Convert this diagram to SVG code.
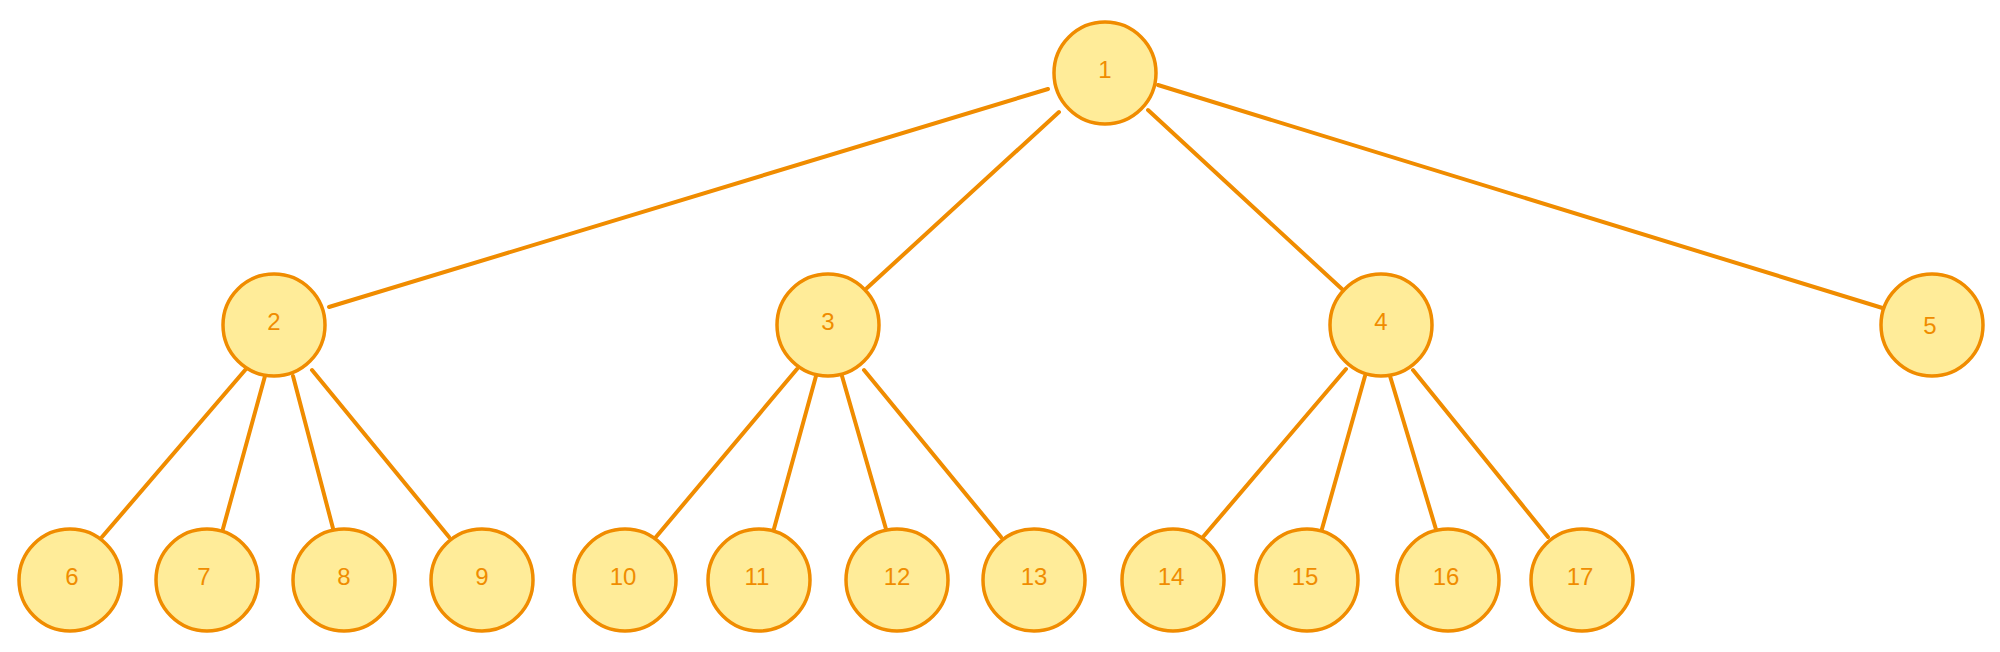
<svg xmlns="http://www.w3.org/2000/svg" width="2000" height="652" viewBox="0 0 2000 652">
<style>
.n circle{fill:#ffec99;stroke:#f08c00;stroke-width:3.5}
.n text{font-family:"Liberation Sans",sans-serif;font-size:24px;fill:#f08c00;text-anchor:middle;dominant-baseline:central}
#edges line{stroke:#f08c00;stroke-width:4;stroke-linecap:round}
</style>
<rect width="2000" height="652" fill="#fff"/>
<g id="edges">
<line x1="1048" y1="89" x2="329" y2="307"/>
<line x1="1059" y1="112" x2="867" y2="288"/>
<line x1="1148" y1="110" x2="1343" y2="290"/>
<line x1="1158" y1="85" x2="1889" y2="310"/>
<line x1="246" y1="369" x2="102" y2="537"/>
<line x1="265" y1="376" x2="221" y2="536"/>
<line x1="293" y1="376" x2="335" y2="536"/>
<line x1="312" y1="370" x2="449" y2="537"/>
<line x1="797" y1="369" x2="656" y2="537"/>
<line x1="816" y1="376" x2="772" y2="536"/>
<line x1="842" y1="376" x2="888" y2="536"/>
<line x1="864" y1="370" x2="1001" y2="537"/>
<line x1="1346" y1="369" x2="1203" y2="537"/>
<line x1="1365" y1="376" x2="1320" y2="536"/>
<line x1="1390" y1="376" x2="1438" y2="536"/>
<line x1="1413" y1="370" x2="1548" y2="537"/>
</g>
<g id="n1" class="n"><circle cx="1105" cy="73" r="51"/><text x="1105" y="69">1</text></g>
<g id="n2" class="n"><circle cx="274" cy="325" r="51"/><text x="274" y="321">2</text></g>
<g id="n3" class="n"><circle cx="828" cy="325" r="51"/><text x="828" y="321">3</text></g>
<g id="n4" class="n"><circle cx="1381" cy="325" r="51"/><text x="1381" y="321">4</text></g>
<g id="n5" class="n"><circle cx="1932" cy="325" r="51"/><text x="1930" y="325">5</text></g>
<g id="n6" class="n"><circle cx="70" cy="580" r="51"/><text x="72" y="576">6</text></g>
<g id="n7" class="n"><circle cx="207" cy="580" r="51"/><text x="204" y="576">7</text></g>
<g id="n8" class="n"><circle cx="344" cy="580" r="51"/><text x="344" y="576">8</text></g>
<g id="n9" class="n"><circle cx="482" cy="580" r="51"/><text x="482" y="576">9</text></g>
<g id="n10" class="n"><circle cx="625" cy="580" r="51"/><text x="623" y="576">10</text></g>
<g id="n11" class="n"><circle cx="759" cy="580" r="51"/><text x="757" y="576">11</text></g>
<g id="n12" class="n"><circle cx="897" cy="580" r="51"/><text x="897" y="576">12</text></g>
<g id="n13" class="n"><circle cx="1034" cy="580" r="51"/><text x="1034" y="576">13</text></g>
<g id="n14" class="n"><circle cx="1173" cy="580" r="51"/><text x="1171" y="576">14</text></g>
<g id="n15" class="n"><circle cx="1307" cy="580" r="51"/><text x="1305" y="576">15</text></g>
<g id="n16" class="n"><circle cx="1448" cy="580" r="51"/><text x="1446" y="576">16</text></g>
<g id="n17" class="n"><circle cx="1582" cy="580" r="51"/><text x="1580" y="576">17</text></g>
</svg>
